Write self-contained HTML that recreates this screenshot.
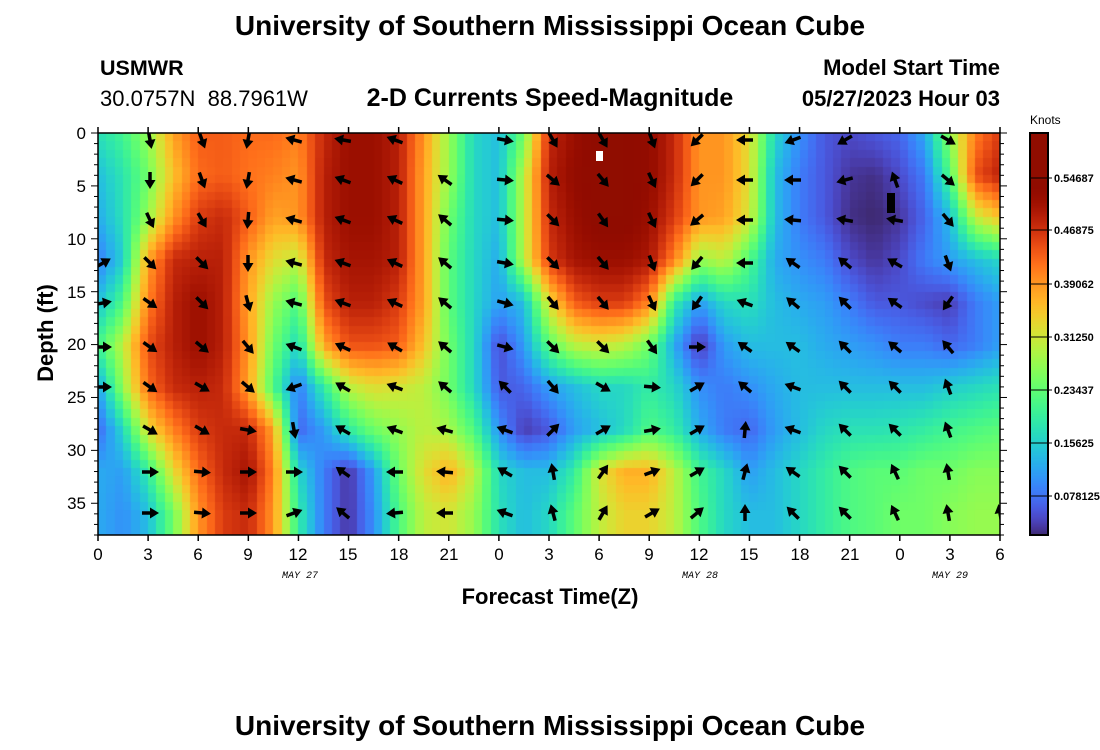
<!DOCTYPE html>
<html><head><meta charset="utf-8"><style>
html,body{margin:0;padding:0;background:#fff;}
#wrap{position:relative;width:1100px;height:750px;overflow:hidden;background:#fff;font-family:"Liberation Sans",sans-serif;}
canvas{position:absolute;}
svg{position:absolute;left:0;top:0;}
</style></head><body><div id="wrap">
<canvas id="hm" width="902" height="402" style="left:98px;top:133px"></canvas>
<canvas id="cb" width="18" height="402" style="left:1030px;top:133px"></canvas>
<svg id="ov" width="1100" height="750" xmlns="http://www.w3.org/2000/svg">
<g font-family="Liberation Sans, sans-serif" fill="#000">
<text x="550" y="35" text-anchor="middle" font-size="28" font-weight="bold">University of Southern Mississippi Ocean Cube</text>
<text x="100" y="75" font-size="21.5" font-weight="bold">USMWR</text>
<text x="100" y="106" font-size="22" xml:space="preserve">30.0757N  88.7961W</text>
<text x="550" y="106" text-anchor="middle" font-size="25" font-weight="bold">2-D Currents Speed-Magnitude</text>
<text x="1000" y="75" text-anchor="end" font-size="22" font-weight="bold">Model Start Time</text>
<text x="1000" y="106" text-anchor="end" font-size="22" font-weight="bold">05/27/2023 Hour 03</text>
<text transform="translate(53,333) rotate(-90)" text-anchor="middle" font-size="22" font-weight="bold">Depth (ft)</text>
<g font-size="17" text-anchor="end">
<text x="86" y="139">0</text><text x="86" y="192">5</text><text x="86" y="245">10</text><text x="86" y="298">15</text>
<text x="86" y="350">20</text><text x="86" y="403">25</text><text x="86" y="456">30</text><text x="86" y="509">35</text>
</g>
<g font-size="17" text-anchor="middle">
<text x="98" y="560">0</text><text x="148" y="560">3</text><text x="198" y="560">6</text><text x="248" y="560">9</text>
<text x="298" y="560">12</text><text x="348" y="560">15</text><text x="399" y="560">18</text><text x="449" y="560">21</text>
<text x="499" y="560">0</text><text x="549" y="560">3</text><text x="599" y="560">6</text><text x="649" y="560">9</text>
<text x="699" y="560">12</text><text x="749" y="560">15</text><text x="800" y="560">18</text><text x="850" y="560">21</text>
<text x="900" y="560">0</text><text x="950" y="560">3</text><text x="1000" y="560">6</text>
</g>
<g font-family="Liberation Mono, monospace" font-style="italic" font-size="10" text-anchor="middle">
<text x="300" y="578">MAY 27</text><text x="700" y="578">MAY 28</text><text x="950" y="578">MAY 29</text>
</g>
<text x="550" y="604" text-anchor="middle" font-size="22" font-weight="bold">Forecast Time(Z)</text>
<text x="550" y="735" text-anchor="middle" font-size="28" font-weight="bold">University of Southern Mississippi Ocean Cube</text>
<text x="1030" y="124" font-size="12">Knots</text>
<g font-size="11" font-weight="bold">
<text x="1054" y="182">0.54687</text><text x="1054" y="234">0.46875</text><text x="1054" y="288">0.39062</text>
<text x="1054" y="341">0.31250</text><text x="1054" y="394">0.23437</text><text x="1054" y="447">0.15625</text><text x="1054" y="500">0.078125</text>
</g>
</g>
<g id="arrows"></g>
<rect x="596" y="151" width="7" height="10" fill="#fff"/>
<rect x="887" y="193" width="8" height="20" fill="#000"/>
<g id="axes" stroke="#000" fill="none"></g>
</svg>
</div>
<script>
var D=[
[0.32,0.38,0.5,0.7,0.8,0.8,0.78,0.78,0.75,0.88,0.95,0.95,0.9,0.72,0.5,0.3,0.25,0.45,0.88,0.95,1.0,1.0,0.97,0.88,0.72,0.72,0.6,0.3,0.18,0.1,0.08,0.1,0.12,0.22,0.5,0.75,0.85],
[0.25,0.33,0.45,0.65,0.78,0.8,0.77,0.75,0.72,0.9,0.95,0.95,0.9,0.7,0.5,0.3,0.25,0.55,0.9,0.97,1.0,1.0,0.97,0.88,0.72,0.72,0.6,0.25,0.15,0.1,0.05,0.04,0.08,0.15,0.4,0.82,0.9],
[0.22,0.32,0.5,0.72,0.85,0.88,0.8,0.7,0.72,0.9,0.95,0.95,0.9,0.7,0.45,0.3,0.25,0.55,0.88,0.95,1.0,1.0,0.95,0.85,0.72,0.7,0.58,0.25,0.15,0.1,0.04,0.03,0.05,0.12,0.25,0.55,0.65],
[0.15,0.28,0.7,0.88,0.9,0.9,0.72,0.6,0.55,0.88,0.93,0.93,0.9,0.7,0.42,0.3,0.22,0.55,0.85,0.93,0.95,0.95,0.92,0.75,0.5,0.55,0.4,0.22,0.18,0.15,0.08,0.05,0.08,0.15,0.2,0.25,0.3],
[0.25,0.4,0.75,0.9,0.95,0.9,0.7,0.5,0.4,0.82,0.9,0.9,0.85,0.7,0.42,0.3,0.2,0.25,0.6,0.8,0.85,0.85,0.75,0.35,0.2,0.3,0.32,0.25,0.22,0.2,0.15,0.1,0.1,0.08,0.06,0.15,0.2],
[0.38,0.55,0.82,0.9,0.95,0.9,0.72,0.45,0.3,0.7,0.82,0.82,0.8,0.65,0.45,0.3,0.08,0.2,0.42,0.55,0.58,0.55,0.45,0.22,0.05,0.2,0.25,0.25,0.25,0.22,0.2,0.18,0.15,0.15,0.12,0.15,0.2],
[0.2,0.5,0.78,0.88,0.9,0.88,0.7,0.4,0.15,0.35,0.55,0.6,0.58,0.55,0.45,0.3,0.1,0.12,0.2,0.25,0.3,0.3,0.35,0.3,0.18,0.15,0.18,0.22,0.25,0.25,0.25,0.25,0.25,0.25,0.28,0.3,0.32],
[0.12,0.3,0.6,0.75,0.85,0.88,0.88,0.7,0.12,0.2,0.35,0.45,0.5,0.55,0.52,0.4,0.18,0.06,0.1,0.2,0.25,0.3,0.4,0.35,0.22,0.15,0.12,0.2,0.25,0.3,0.32,0.32,0.33,0.35,0.38,0.4,0.42],
[0.22,0.2,0.35,0.6,0.78,0.88,0.93,0.75,0.3,0.15,0.05,0.2,0.45,0.6,0.68,0.55,0.3,0.25,0.25,0.35,0.58,0.68,0.68,0.55,0.38,0.3,0.2,0.25,0.3,0.35,0.4,0.42,0.42,0.45,0.45,0.48,0.48],
[0.22,0.18,0.25,0.45,0.72,0.85,0.88,0.72,0.35,0.15,0.05,0.18,0.4,0.55,0.58,0.5,0.32,0.25,0.3,0.42,0.55,0.62,0.62,0.55,0.4,0.3,0.25,0.25,0.3,0.35,0.4,0.42,0.45,0.45,0.48,0.5,0.5]];
D.push(D[9]);
var DEP=[0,4,8,12,16,20,24,28,32,36,38];
function turbo(t){t=Math.max(0,Math.min(1,t));
var r=0.13572138+t*(4.61539260+t*(-42.66032258+t*(132.13108234+t*(-152.94239396+t*59.28637943))));
var g=0.09140261+t*(2.19418839+t*(4.84296658+t*(-14.18503333+t*(4.27729857+t*2.82956604))));
var b=0.10667330+t*(12.64194608+t*(-60.58204836+t*(110.36276771+t*(-89.90310912+t*27.34824973))));
function c(v){return Math.round(Math.max(0,Math.min(1,v))*255);}
return 'rgb('+c(r)+','+c(g)+','+c(b)+')';}
function val(h,d){var fc=h/1.5;var c0=Math.min(35,Math.floor(fc));var fx=fc-c0;
var r0=0;while(r0<9&&DEP[r0+1]<d)r0++;var fy=(d-DEP[r0])/(DEP[r0+1]-DEP[r0]);fy=Math.max(0,Math.min(1,fy));fx=Math.max(0,Math.min(1,fx));
var a=D[r0][c0]*(1-fx)+D[r0][c0+1]*fx,b=D[r0+1][c0]*(1-fx)+D[r0+1][c0+1]*fx;return a*(1-fy)+b*fy;}
var cv=document.getElementById('hm').getContext('2d');
var NC=108,NR=48;
for(var i=0;i<NC;i++){for(var j=0;j<NR;j++){
var x0=Math.round(i*902/NC),x1=Math.round((i+1)*902/NC),y0=Math.round(j*402/NR),y1=Math.round((j+1)*402/NR);
var h=(i+0.5)/NC*54,d=(j+0.5)/NR*38;cv.fillStyle=turbo(val(h,d));cv.fillRect(x0,y0,x1-x0,y1-y0);}}
var cb=document.getElementById('cb').getContext('2d');
for(var y=0;y<402;y++){var p=(402-y)/402;cb.fillStyle=turbo(0.03+1.1*p);cb.fillRect(0,y,18,1);}
var NS='http://www.w3.org/2000/svg';
function el(n,a,par){var e=document.createElementNS(NS,n);for(var k in a)e.setAttribute(k,a[k]);par.appendChild(e);return e;}
var ax=document.getElementById('axes');
el('rect',{x:98,y:133,width:902,height:402,'stroke-width':1.5},ax);
el('rect',{x:1030,y:133,width:18,height:402,'stroke-width':2},ax);
for(var h=0;h<=54;h+=3){var x=98+h*902/54;el('line',{x1:x,y1:133,x2:x,y2:127,'stroke-width':1.5},ax);el('line',{x1:x,y1:535,x2:x,y2:541,'stroke-width':1.5},ax);}
for(var d=0;d<=38;d++){var y=133+d*402/38;var L=(d%5==0)?7:4;el('line',{x1:98,y1:y,x2:98-L,y2:y,'stroke-width':1},ax);el('line',{x1:1000,y1:y,x2:1000+L,y2:y,'stroke-width':1},ax);}
[182,234,288,341,394,447,500].forEach(function(y){el('line',{x1:1030,y1:y-4,x2:1052,y2:y-4,'stroke-width':1},ax);});
var XS=[103,150,202,248,294,343,395,445,505,553,603,652,697,745,793,845,895,948,1000];
var YS=[140,180,220,263,303,347,387,430,472,513];
var A=[
[null,80,70,100,195,190,200,null,10,60,60,70,135,180,160,150,null,30,null],
[null,90,70,100,195,200,205,215,5,40,50,65,135,180,180,165,250,40,null],
[null,65,60,95,195,200,205,220,5,45,55,65,140,180,185,190,190,50,null],
[330,45,45,90,195,200,205,220,10,45,50,70,130,180,215,220,210,70,null],
[350,35,45,75,195,200,205,220,15,50,50,65,125,200,220,225,215,125,null],
[0,35,40,50,200,205,210,220,15,45,45,55,0,215,215,225,220,230,null],
[0,35,30,40,160,210,200,220,225,50,30,5,330,220,200,225,225,250,null],
[null,30,30,10,80,210,200,195,200,315,330,350,330,275,200,225,225,250,null],
[null,0,5,0,0,215,180,185,210,260,305,340,330,285,215,225,245,260,null],
[null,0,5,0,340,220,175,180,200,255,300,330,320,270,225,225,245,260,260]];
var ag=document.getElementById('arrows');
var cp=el('clipPath',{id:'pc'},ag);el('rect',{x:98,y:133,width:902,height:402},cp);
var g2=el('g',{'clip-path':'url(#pc)'},ag);
for(var r=0;r<10;r++)for(var c=0;c<19;c++){var a=A[r][c];if(a===null)continue;
var g=el('g',{transform:'translate('+XS[c]+','+YS[r]+') rotate('+a+')'},g2);
el('line',{x1:-8,y1:0,x2:2,y2:0,stroke:'#000','stroke-width':3.5},g);
el('polygon',{points:'9,0 0,-5.5 0,5.5',fill:'#000'},g);}
</script>
</body></html>
